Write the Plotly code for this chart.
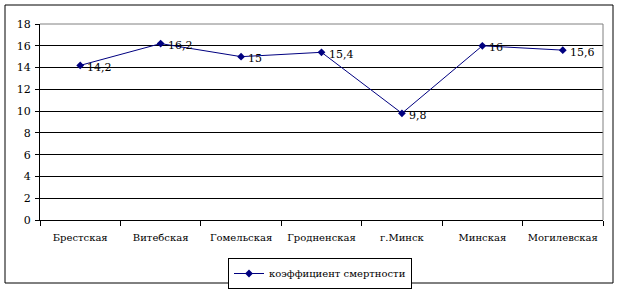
import plotly.graph_objects as go

categories = ["Брестская", "Витебская", "Гомельская", "Гродненская", "г.Минск", "Минская", "Могилевская"]
values = [14.2, 16.2, 15.0, 15.4, 9.8, 16.0, 15.6]
labels = ["14,2", "16,2", "15", "15,4", "9,8", "16", "15,6"]
series_name = "коэффициент смертности"
y_ticks = [0, 2, 4, 6, 8, 10, 12, 14, 16, 18]

FONT = "DejaVu Serif"

fig = go.Figure()
fig.add_trace(go.Scatter(
    x=categories, y=values, name=series_name,
    mode="lines+markers",
    line=dict(color="#000080", width=1),
    marker=dict(symbol="diamond", size=6, color="#000080"),
))
for c, v, t in zip(categories, values, labels):
    fig.add_annotation(x=c, y=v, text=t, showarrow=False, xanchor="left",
                       yanchor="middle", xshift=5, yshift=-2,
                       font=dict(family=FONT, size=11, color="black"))

L, R, T, B = 40, 16, 24, 69
W, H = 619, 289
pw, ph = W - L - R, H - T - B

def px(x):
    return (x - L) / pw

def py(y):
    return (H - B - y) / ph

fig.update_layout(
    width=W, height=H,
    margin=dict(l=L, r=R, t=T, b=B, autoexpand=False),
    paper_bgcolor="white", plot_bgcolor="white",
    font=dict(family=FONT, size=11, color="black"),
    showlegend=True,
    legend=dict(
        xref="container", yref="container",
        x=320 / W, xanchor="center", y=1 - 258 / H, yanchor="top",
        orientation="h", bordercolor="black", borderwidth=1,
        font=dict(family=FONT, size=10, color="black"),
        bgcolor="white",
    ),
    xaxis=dict(
        type="category", range=[-0.5, 6.5],
        showgrid=False, showline=True, linecolor="black", linewidth=1,
        ticks="outside", tickson="boundaries", ticklen=5, tickcolor="black",
        tickfont=dict(family=FONT, size=10, color="black"), tickangle=0,
        ticklabelstandoff=8, automargin=False,
    ),
    yaxis=dict(
        range=[0, 18], tickvals=y_ticks, ticktext=[str(v) for v in y_ticks],
        showgrid=True, gridcolor="black", gridwidth=1,
        showline=True, linecolor="black", linewidth=1,
        ticks="outside", ticklen=4, tickcolor="black",
        tickfont=dict(family=FONT, size=11, color="black"),
        ticklabelstandoff=2, zeroline=False, automargin=False,
    ),
    shapes=[
        dict(type="line", xref="paper", yref="paper", x0=0, x1=1, y0=1, y1=1,
             line=dict(color="#808080", width=1)),
        dict(type="line", xref="paper", yref="paper", x0=1, x1=1, y0=0, y1=1,
             line=dict(color="#808080", width=1)),
        dict(type="rect", xref="paper", yref="paper",
             x0=px(5), x1=px(613), y0=py(283), y1=py(5),
             line=dict(color="black", width=1), layer="below"),
    ],
)

fig.write_html("out.html")
